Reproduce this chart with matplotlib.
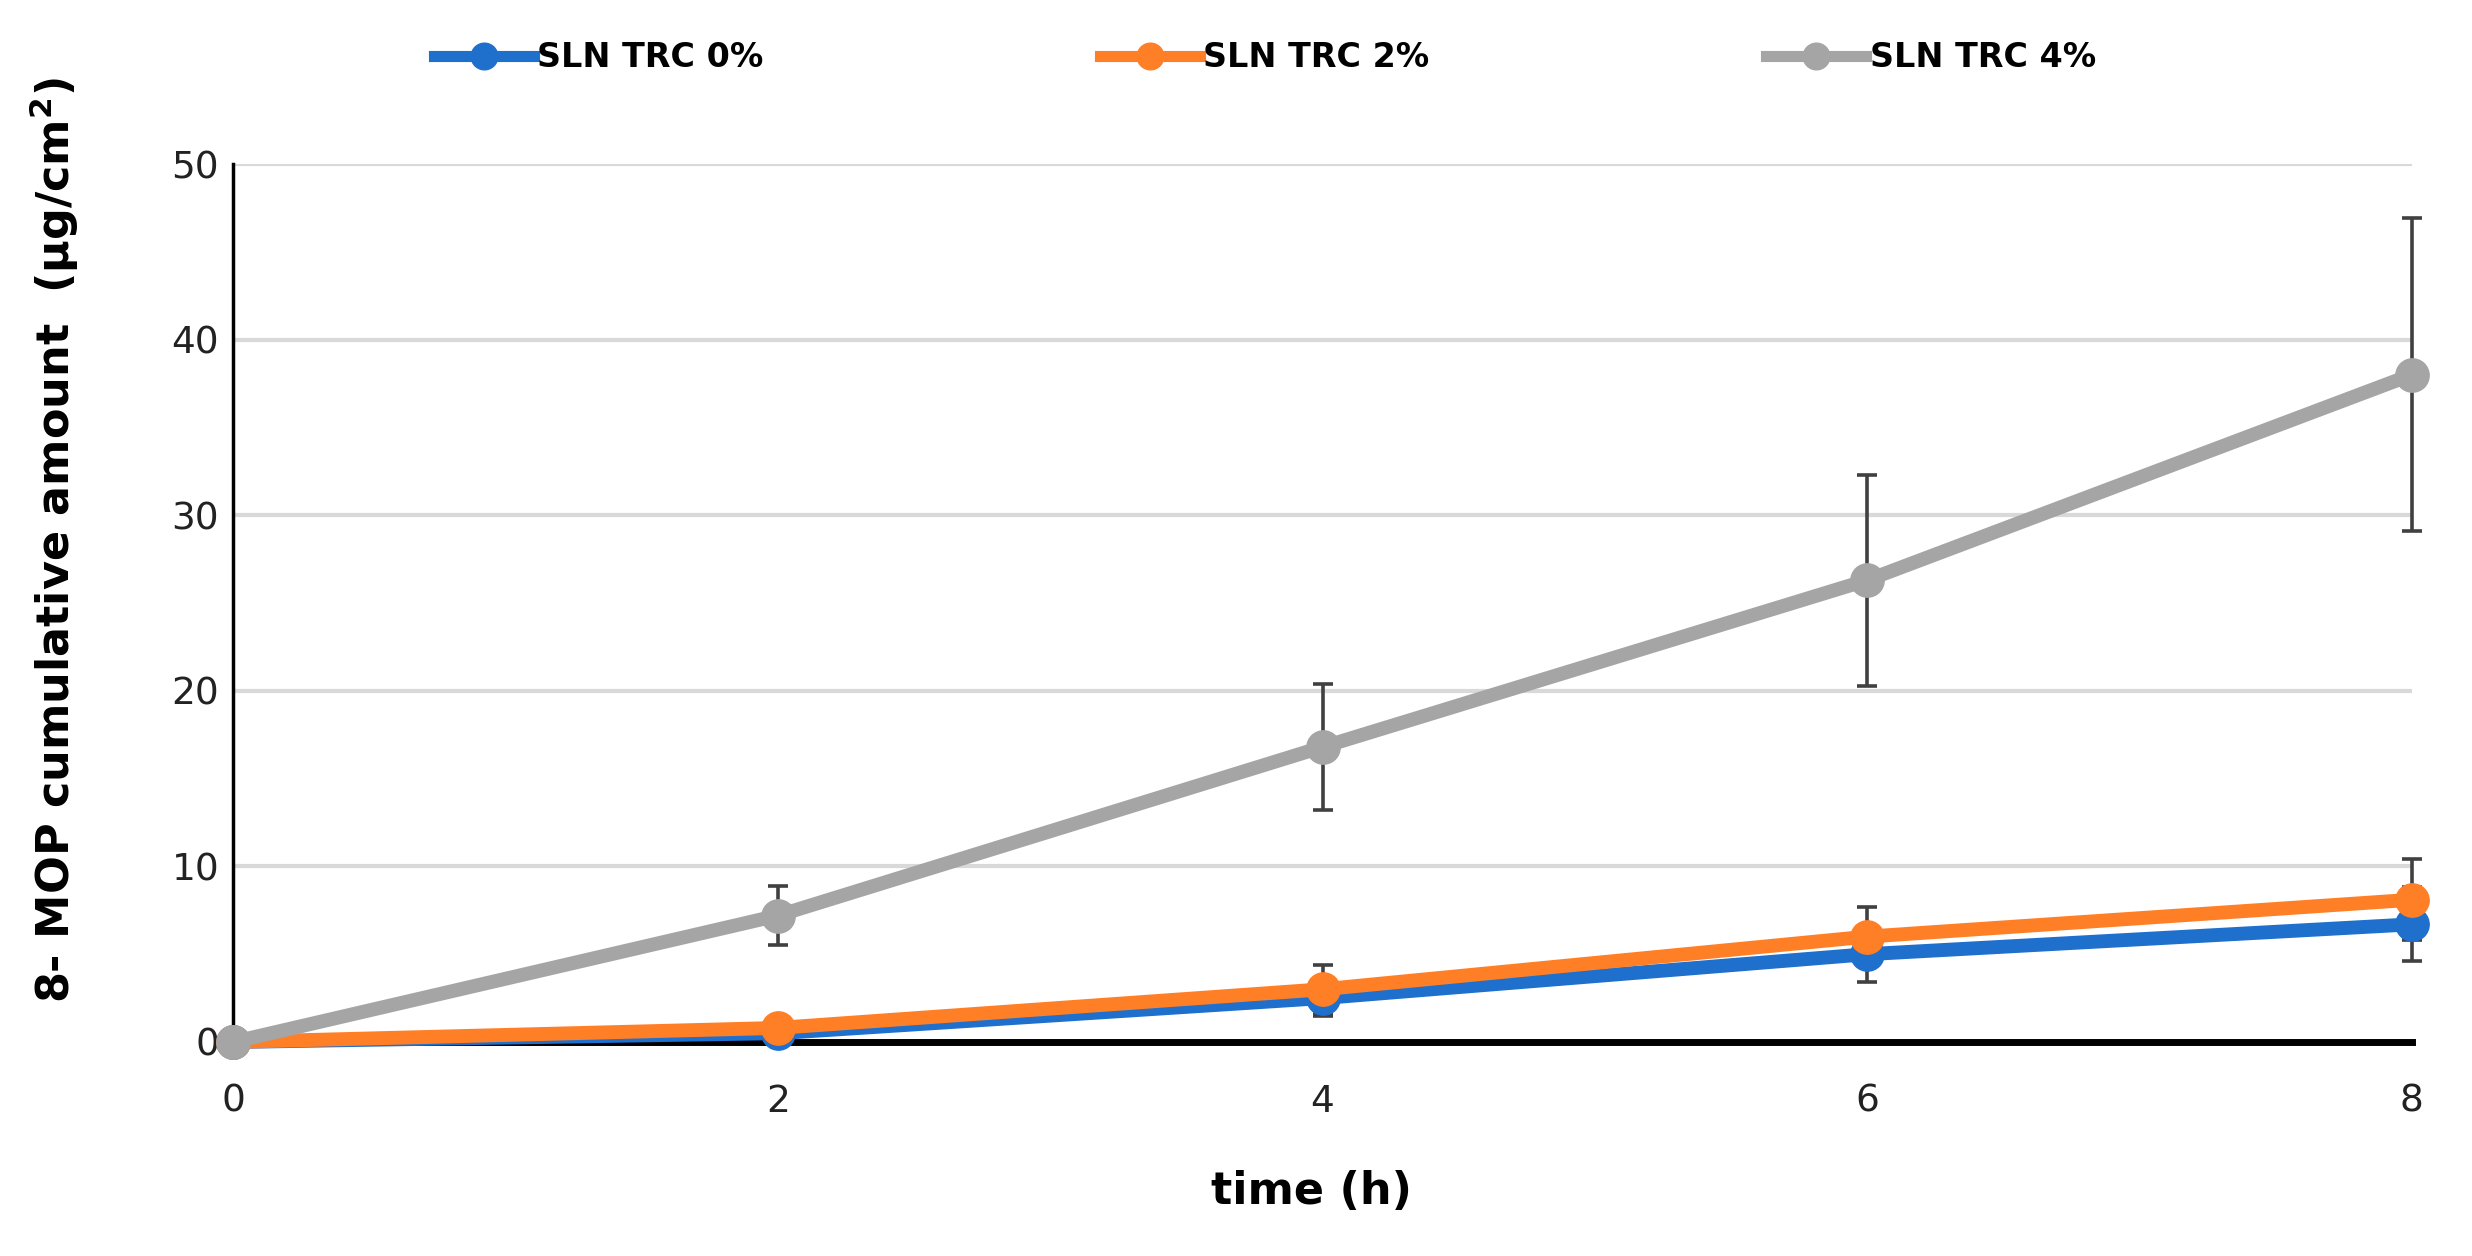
import numpy as np
import matplotlib.pyplot as plt

# datos
time_h = [0, 2, 4, 6, 8]
series_names = ['SLN TRC 0%', 'SLN TRC 2%', 'SLN TRC 4%']
trc0 = [0, 0.5, 2.5, 5.0, 6.7]
trc0_err = [0, 0.3, 1.0, 1.6, 2.1]
trc2 = [0, 0.8, 3.0, 6.0, 8.1]
trc2_err = [0, 0.3, 1.4, 1.7, 2.3]
trc4 = [0, 7.2, 16.8, 26.3, 38.0]
trc4_err = [0, 1.7, 3.6, 6.0, 8.9]

colors = ['#1f6fcc', '#ff7f27', '#a5a5a5']

fig = plt.figure(figsize=(24.72, 12.56), dpi=100)
ax = fig.add_axes([0.0943, 0.1704, 0.8814, 0.699])

handles = []
for vals, errs, c, name in zip([trc0, trc2, trc4], [trc0_err, trc2_err, trc4_err],
                               colors, series_names):
    ax.errorbar(time_h, vals, yerr=errs, fmt='none', ecolor='#404040',
                elinewidth=2.6, capsize=7, capthick=2.6, zorder=2, clip_on=False)
    h, = ax.plot(time_h, vals, color=c, lw=10, marker='o', ms=24,
                 label=name, zorder=3, clip_on=False)
    handles.append(h)

ax.set_xlim(0, 8)
ax.set_ylim(0, 50)
ax.set_xticks(time_h)
ax.set_yticks([0, 10, 20, 30, 40, 50])
ax.tick_params(axis='both', length=0, labelsize=27, colors='#222222')
ax.tick_params(axis='x', pad=30)
ax.tick_params(axis='y', pad=10)
ax.grid(axis='y', color='#d9d9d9', lw=3, zorder=0)
ax.set_axisbelow(True)

for s in ['top', 'right']:
    ax.spines[s].set_visible(False)
ax.spines['left'].set_linewidth(2.5)
ax.spines['bottom'].set_linewidth(5)

ax.set_xlabel('time (h)', fontsize=32, fontweight='bold')
ax.set_ylabel('8- MOP cumulative amount  (µg/cm$^\\mathbf{2}$)', fontsize=32,
              fontweight='bold')
ax.xaxis.set_label_coords(0.495, -0.146)
ax.yaxis.set_label_coords(-0.07, 0.572)

leg = fig.legend(handles=handles, loc='center left', bbox_to_anchor=(0.1755, 0.954),
                 ncol=3, frameon=False, fontsize=24, columnspacing=10.1,
                 handlelength=3.0, handletextpad=0.1, borderpad=0, borderaxespad=0,
                 markerscale=0.8)
for t in leg.get_texts():
    t.set_fontweight('bold')
for l in leg.get_lines():
    l.set_linewidth(8)

fig.savefig('out.png', dpi=100)
